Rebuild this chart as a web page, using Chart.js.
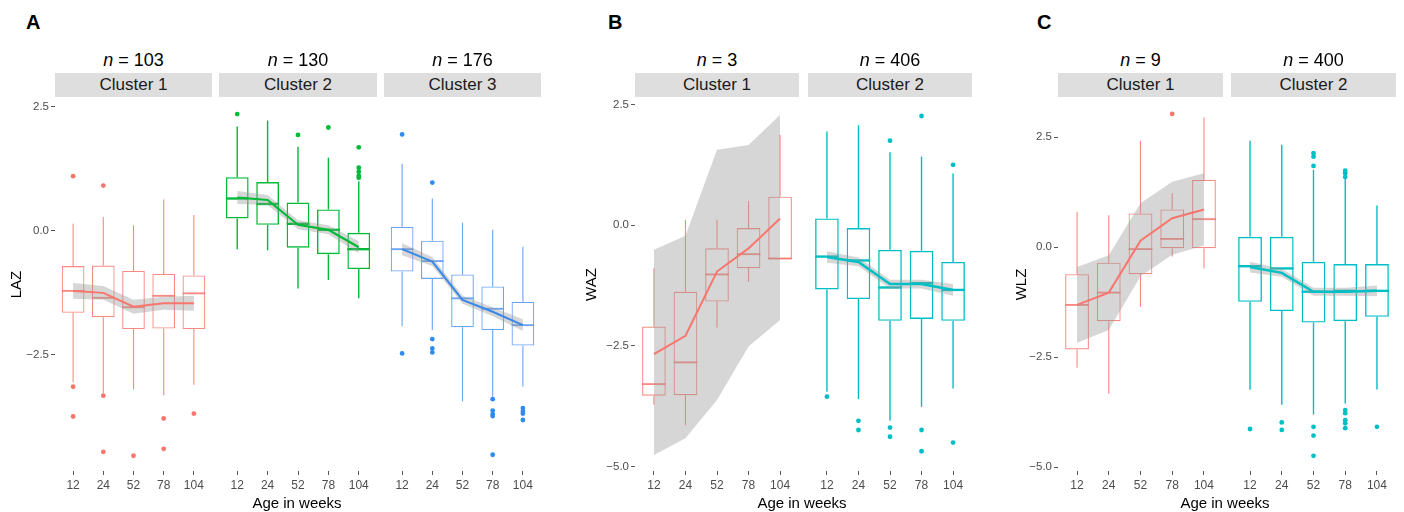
<!DOCTYPE html>
<html><head><meta charset="utf-8">
<script src="https://cdn.jsdelivr.net/npm/chart.js@4.4.1/dist/chart.umd.min.js"></script>
<style>
html,body{margin:0;padding:0;background:#fff;}
#root{position:relative;width:1404px;height:512px;overflow:hidden;font-family:'Liberation Sans',Arial,Helvetica,sans-serif;}
.abs{position:absolute;white-space:nowrap;}
.letter{font-weight:bold;font-size:20px;line-height:20px;color:#000;}
.nlab{font-size:18px;line-height:18px;text-align:center;color:#000;}
.strip{background:#DEDEDE;font-size:17px;line-height:24px;height:24px;text-align:center;color:#1a1a1a;}
.xtitle{font-size:15px;line-height:15px;color:#000;text-align:center;width:200px;}
canvas{position:absolute;}
</style></head><body><div id="root"></div>
<script>
// ---------- DATA ----------
const ageLabels = ['12', '24', '52', '78', '104'];
const yTickValues = [-5, -2.5, 0, 2.5];

// Box stats per age: [lower whisker, Q1, median, Q3, upper whisker]
// Panel A – LAZ
const lazC1Box = [[-3.05,-1.65,-1.21,-0.71,0.14],[-3.27,-1.74,-1.35,-0.70,0.28],[-3.19,-1.98,-1.54,-0.81,0.11],[-3.31,-1.97,-1.31,-0.87,0.63],[-3.10,-1.98,-1.26,-0.90,0.32]];
const lazC1Out = [[1.10,-3.14,-3.74],[0.91,-3.32,-4.45],[-4.53],[-3.78,-4.39],[-3.68]];
const lazC1Fit = [-1.21,-1.25,-1.53,-1.46,-1.46];
const lazC1Lo  = [-1.37,-1.39,-1.67,-1.59,-1.61];
const lazC1Hi  = [-1.05,-1.11,-1.39,-1.33,-1.31];

const lazC2Box = [[-0.37,0.25,0.65,1.08,2.10],[-0.39,0.12,0.54,0.98,2.22],[-1.16,-0.34,0.14,0.57,1.69],[-0.99,-0.47,0.02,0.43,1.47],[-1.36,-0.77,-0.37,-0.04,1.00]];
const lazC2Out = [[2.35],[],[1.93],[2.08],[1.68,1.27,1.19,1.11,1.07]];
const lazC2Fit = [0.67,0.62,0.12,0.02,-0.33];
const lazC2Lo  = [0.54,0.52,0.03,-0.07,-0.45];
const lazC2Hi  = [0.80,0.72,0.21,0.11,-0.21];

const lazC3Box = [[-1.92,-0.82,-0.37,0.08,1.35],[-2.00,-0.97,-0.61,-0.20,0.65],[-3.44,-1.94,-1.36,-0.88,0.16],[-3.34,-2.00,-1.57,-1.12,0.02],[-3.14,-2.31,-1.90,-1.43,-0.32]];
const lazC3Out = [[1.94,-2.47],[0.97,-2.18,-2.37,-2.45],[],[-3.39,-3.62,-3.69,-3.73,-4.51],[-3.57,-3.63,-3.68,-3.81]];
const lazC3Fit = [-0.37,-0.62,-1.39,-1.63,-1.90];
const lazC3Lo  = [-0.49,-0.71,-1.47,-1.72,-2.02];
const lazC3Hi  = [-0.25,-0.53,-1.31,-1.54,-1.78];

// Panel B – WAZ
const wazC1Box = [[-3.72,-3.53,-3.29,-2.10,-0.89],[-4.14,-3.52,-2.84,-1.38,0.11],[-2.12,-1.58,-1.02,-0.48,0.11],[-1.17,-0.89,-0.60,-0.06,0.50],[-0.70,-0.70,-0.69,0.59,1.87]];
const wazC1Out = [[],[],[],[],[]];
const wazC1Fit = [-2.67,-2.29,-0.96,-0.48,0.14];
const wazC1Lo  = [-4.76,-4.41,-3.62,-2.51,-1.96];
const wazC1Hi  = [-0.51,-0.22,1.56,1.66,2.28];

const wazC2Box = [[-3.45,-1.33,-0.65,0.14,1.94],[-3.60,-1.53,-0.73,-0.06,2.07],[-4.05,-1.98,-1.29,-0.51,1.51],[-3.76,-1.94,-1.20,-0.53,1.42],[-3.38,-1.98,-1.34,-0.76,1.07]];
const wazC2Out = [[-3.55],[-4.05,-4.24],[1.75,-4.19,-4.38],[2.26,-4.24,-4.68],[1.25,-4.50]];
const wazC2Fit = [-0.66,-0.76,-1.22,-1.22,-1.34];
const wazC2Lo  = [-0.78,-0.85,-1.31,-1.31,-1.46];
const wazC2Hi  = [-0.54,-0.67,-1.13,-1.13,-1.22];

// Panel C – WLZ
const wlzC1Box = [[-2.74,-2.32,-1.31,-0.61,0.81],[-3.33,-1.68,-1.03,-0.35,0.73],[-1.35,-0.61,-0.04,0.77,2.42],[-0.21,-0.02,0.19,0.86,1.23],[-0.48,-0.02,0.64,1.53,2.95]];
const wlzC1Out = [[],[],[],[3.03],[]];
const wlzC1Fit = [-1.31,-1.03,0.15,0.66,0.86];
const wlzC1Lo  = [-2.17,-1.88,-0.66,-0.17,0.04];
const wlzC1Hi  = [-0.45,-0.18,1.00,1.49,1.68];

const wlzC2Box = [[-3.24,-1.24,-0.43,0.24,2.42],[-3.58,-1.45,-0.48,0.24,2.33],[-3.80,-1.71,-1.01,-0.33,1.76],[-3.55,-1.68,-0.99,-0.38,1.57],[-3.23,-1.58,-0.99,-0.38,0.95]];
const wlzC2Out = [[-4.13],[-3.98,-4.15],[2.14,2.06,1.85,-4.08,-4.28,-4.74],[1.74,1.68,1.60,-3.70,-3.77,-3.93,-4.00,-4.11],[-4.08]];
const wlzC2Fit = [-0.45,-0.58,-1.01,-1.01,-0.99];
const wlzC2Lo  = [-0.57,-0.67,-1.10,-1.10,-1.11];
const wlzC2Hi  = [-0.33,-0.49,-0.92,-0.92,-0.87];

const clusterNames = ['Cluster 1', 'Cluster 2', 'Cluster 3'];
const panelA_n = ['103', '130', '176'];
const panelB_n = ['3', '406'];
const panelC_n = ['9', '400'];

// ---------- STYLE / LAYOUT ----------
const FONT = "'Liberation Sans', Arial, Helvetica, sans-serif";
Chart.defaults.font.family = FONT;
const RED  = {box:'rgba(248,118,109,0.85)', pt:'#F8766D', line:'#F8766D', bw:1.1, lw:2};
const GRN  = {box:'#00BA38', pt:'#00BA38', line:'#00BA38', bw:1.4, lw:2.2};
const BLU  = {box:'#6AA4F6', pt:'#2E8BF0', line:'#3A89EA', bw:1.1, lw:2};
const CYN  = {box:'#00BFC4', pt:'#00BFC4', line:'#00BFC4', bw:1.4, lw:2.5};
const BAND = 'rgba(153,153,153,0.4)';

const TOP = 98, BOTTOM = 471, PAD = 10, XH = 28;

const panels = [
  {letter:'A', letterX:26, ytitle:'LAZ', ymin:-4.837, ymax:2.674, canvasLeft:0, titleCenter:17, xtitleCenter:297,
   facets:[
    {left:55, right:212, n:panelA_n[0], name:clusterNames[0], st:RED, box:lazC1Box, out:lazC1Out, fit:lazC1Fit, lo:lazC1Lo, hi:lazC1Hi},
    {left:219, right:377, n:panelA_n[1], name:clusterNames[1], st:GRN, box:lazC2Box, out:lazC2Out, fit:lazC2Fit, lo:lazC2Lo, hi:lazC2Hi},
    {left:384, right:541, n:panelA_n[2], name:clusterNames[2], st:BLU, box:lazC3Box, out:lazC3Out, fit:lazC3Fit, lo:lazC3Lo, hi:lazC3Hi}]},
  {letter:'B', letterX:608, ytitle:'WAZ', ymin:-5.089, ymax:2.633, canvasLeft:575, titleCenter:592, xtitleCenter:802,
   facets:[
    {left:635, right:799, n:panelB_n[0], name:clusterNames[0], st:RED, box:wazC1Box, out:wazC1Out, fit:wazC1Fit, lo:wazC1Lo, hi:wazC1Hi},
    {left:808, right:972, n:panelB_n[1], name:clusterNames[1], st:CYN, box:wazC2Box, out:wazC2Out, fit:wazC2Fit, lo:wazC2Lo, hi:wazC2Hi}]},
  {letter:'C', letterX:1037, ytitle:'WLZ', ymin:-5.084, ymax:3.393, canvasLeft:1005, titleCenter:1022, xtitleCenter:1225,
   facets:[
    {left:1058, right:1223, n:panelC_n[0], name:clusterNames[0], st:RED, box:wlzC1Box, out:wlzC1Out, fit:wlzC1Fit, lo:wlzC1Lo, hi:wlzC1Hi},
    {left:1231, right:1396, n:panelC_n[1], name:clusterNames[1], st:CYN, box:wlzC2Box, out:wlzC2Out, fit:wlzC2Fit, lo:wlzC2Lo, hi:wlzC2Hi}]}
];

const root = document.getElementById('root');
function addDiv(cls, text, css) {
  const d = document.createElement('div');
  d.className = 'abs ' + cls;
  if (typeof text === 'string') d.textContent = text; else d.appendChild(text);
  Object.assign(d.style, css);
  root.appendChild(d);
  return d;
}

function makeWhiskerPlugin(boxes, st) {
  return {
    id: 'whiskers',
    beforeDatasetsDraw(chart) {
      const {ctx, scales: {x, y}, chartArea} = chart;
      ctx.save();
      ctx.beginPath();
      ctx.rect(chartArea.left, chartArea.top, chartArea.right - chartArea.left, chartArea.bottom - chartArea.top);
      ctx.clip();
      ctx.strokeStyle = st.box;
      boxes.forEach((b, i) => {
        const cx = x.getPixelForValue(i + 1);
        const hw = x.getPixelForValue(i + 1 + 0.375) - cx;
        ctx.lineWidth = st.bw;
        ctx.beginPath();
        ctx.moveTo(cx, y.getPixelForValue(b[4])); ctx.lineTo(cx, y.getPixelForValue(b[3]));
        ctx.moveTo(cx, y.getPixelForValue(b[1])); ctx.lineTo(cx, y.getPixelForValue(b[0]));
        ctx.stroke();
        ctx.lineWidth = st.bw * 1.7;
        const my = y.getPixelForValue(b[2]);
        ctx.beginPath(); ctx.moveTo(cx - hw, my); ctx.lineTo(cx + hw, my); ctx.stroke();
      });
      ctx.restore();
    }
  };
}

function makeFacet(p, f, first) {
  const cLeft = first ? p.canvasLeft : f.left - PAD;
  const yw = first ? f.left - p.canvasLeft : 0;
  const cTop = TOP - PAD;
  const w = Math.round(f.right + PAD - cLeft);
  const h = BOTTOM - cTop + XH;
  const canvas = document.createElement('canvas');
  canvas.width = w; canvas.height = h;
  Object.assign(canvas.style, {left: cLeft + 'px', top: cTop + 'px', width: w + 'px', height: h + 'px'});
  root.appendChild(canvas);

  const pts = arr => arr.map((v, i) => ({x: i + 1, y: v}));
  const outliers = [];
  f.out.forEach((list, i) => list.forEach(v => outliers.push({x: i + 1, y: v})));
  const tickGrid = {display: true, drawOnChartArea: false, drawTicks: true, tickLength: 4, color: '#555', lineWidth: 1, offset: false};

  new Chart(canvas, {
    type: 'scatter',
    data: {datasets: [
      {type: 'line', data: pts(f.fit), borderColor: f.st.line, borderWidth: f.st.lw, pointRadius: 0, fill: false, tension: 0},
      {type: 'line', data: pts(f.hi), borderColor: 'rgba(0,0,0,0)', borderWidth: 0, pointRadius: 0, fill: '+1', backgroundColor: BAND, tension: 0},
      {type: 'line', data: pts(f.lo), borderColor: 'rgba(0,0,0,0)', borderWidth: 0, pointRadius: 0, fill: false, tension: 0},
      {type: 'scatter', data: outliers, pointRadius: 2.4, pointHoverRadius: 2.4, backgroundColor: f.st.pt, borderWidth: 0},
      {type: 'bar', data: f.box.map((b, i) => ({x: i + 1, y: [b[1], b[3]]})), backgroundColor: 'rgba(0,0,0,0)',
       borderColor: f.st.box, borderWidth: f.st.bw, borderSkipped: false, barPercentage: 0.75, categoryPercentage: 1}
    ]},
    options: {
      responsive: false, animation: false, events: [],
      layout: {padding: {top: PAD, right: PAD, bottom: 0, left: first ? 0 : PAD}},
      plugins: {legend: {display: false}, tooltip: {enabled: false}, title: {display: false}},
      scales: {
        x: {
          type: 'linear', min: 0.4, max: 5.6, offset: false,
          afterBuildTicks: s => { s.ticks = ageLabels.map((_, i) => ({value: i + 1})); },
          afterFit: s => { s.height = XH; },
          ticks: {callback: v => ageLabels[Math.round(v) - 1], font: {size: 12}, color: '#4d4d4d', padding: 3, maxRotation: 0, autoSkip: false},
          grid: tickGrid, border: {display: false}
        },
        y: {
          type: 'linear', min: p.ymin, max: p.ymax, display: first,
          afterBuildTicks: s => { s.ticks = yTickValues.filter(v => v >= p.ymin && v <= p.ymax).map(v => ({value: v})); },
          afterFit: s => { s.width = yw; },
          ticks: {callback: v => (v < 0 ? '\u2212' : '') + Math.abs(v).toFixed(1), font: {size: 11.5}, color: '#4d4d4d', padding: 2},
          grid: tickGrid, border: {display: false},
          title: {display: true, text: p.ytitle, font: {size: 15}, color: '#000', padding: {top: p.titleCenter - p.canvasLeft - 9, bottom: 0}}
        }
      }
    },
    plugins: [makeWhiskerPlugin(f.box, f.st)]
  });

  // strip + n label
  const fw = f.right - f.left;
  addDiv('strip', f.name, {left: f.left + 'px', top: '73px', width: fw + 'px'});
  const span = document.createElement('span');
  const it = document.createElement('i'); it.textContent = 'n';
  span.appendChild(it); span.appendChild(document.createTextNode(' = ' + f.n));
  addDiv('nlab', span, {left: f.left + 'px', top: '51px', width: fw + 'px'});
}

panels.forEach(p => {
  addDiv('letter', p.letter, {left: p.letterX + 'px', top: '12px'});
  p.facets.forEach((f, i) => makeFacet(p, f, i === 0));
  addDiv('xtitle', 'Age in weeks', {left: (p.xtitleCenter - 100) + 'px', top: '495px'});
});
</script></body></html>
